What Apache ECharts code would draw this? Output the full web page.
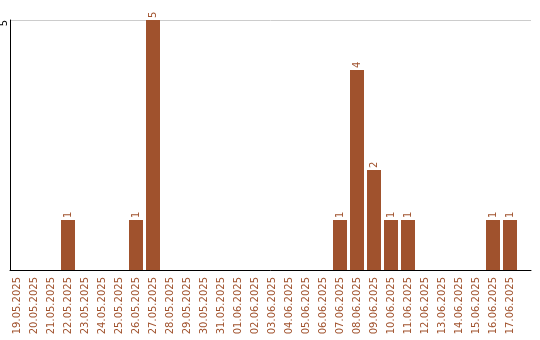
<!DOCTYPE html>
<html><head><meta charset="utf-8">
<script src="https://cdn.jsdelivr.net/npm/echarts@6/dist/echarts.min.js"></script>
<style>html,body{margin:0;padding:0;background:#fff}#c{width:540px;height:340px}</style>
</head><body><div id="c"></div>
<script>
const categories = ['19.05.2025','20.05.2025','21.05.2025','22.05.2025','23.05.2025','24.05.2025','25.05.2025','26.05.2025','27.05.2025','28.05.2025','29.05.2025','30.05.2025','31.05.2025','01.06.2025','02.06.2025','03.06.2025','04.06.2025','05.06.2025','06.06.2025','07.06.2025','08.06.2025','09.06.2025','10.06.2025','11.06.2025','12.06.2025','13.06.2025','14.06.2025','15.06.2025','16.06.2025','17.06.2025'];
const counts = [0,0,0,1,0,0,0,1,5,0,0,0,0,0,0,0,0,0,0,1,4,2,1,1,0,0,0,0,1,1];
const yMax = 5;
const color = '#a0522d';
const font = 'DejaVu Sans';

const chart = echarts.init(document.getElementById('c'), null, {renderer:'canvas'});
chart.setOption({
  animation: false,
  grid: [
    {left: 8.5, width: 510, top: 20, bottom: 70, containLabel:false, outerBoundsMode:'none'},
    {left: 10, right: 9, top: 20, bottom: 70, containLabel:false, outerBoundsMode:'none'}
  ],
  xAxis: [
    {type:'category', gridIndex:0, data: categories,
     axisLine:{show:false}, axisTick:{show:false},
     axisLabel:{rotate:90, color: color, fontFamily: font, fontSize: 10, margin: 7, interval: 0}},
    {type:'value', gridIndex:1, min:0, max:1,
     axisLine:{show:true, onZero:false, lineStyle:{color:'#000', width:1}},
     axisTick:{show:false}, axisLabel:{show:false}, splitLine:{show:false}}
  ],
  yAxis: [
    {type:'value', gridIndex:0, min:0, max:yMax, show:false},
    {type:'value', gridIndex:1, min:0, max:yMax, interval:5,
     axisLine:{show:true, lineStyle:{color:'#000', width:1}},
     axisTick:{show:false},
     axisLabel:{rotate:90, color:'#000', fontFamily: font, fontSize: 10, margin: 6,
       align:'right', verticalAlign:'middle',
       formatter: v => v === 0 ? '' : String(v)},
     splitLine:{show:true, lineStyle:{color:'#cccccc', width:1}}}
  ],
  series: [{
    type:'bar', xAxisIndex:0, yAxisIndex:0, data: counts,
    barWidth: 14,
    itemStyle:{color: color},
    label:{show:true, position:'top', rotate:90, align:'left', verticalAlign:'middle',
      distance: 2, color: color, fontFamily: font, fontSize: 10,
      formatter: p => p.value === 0 ? '' : String(p.value)}
  }]
});
</script></body></html>
